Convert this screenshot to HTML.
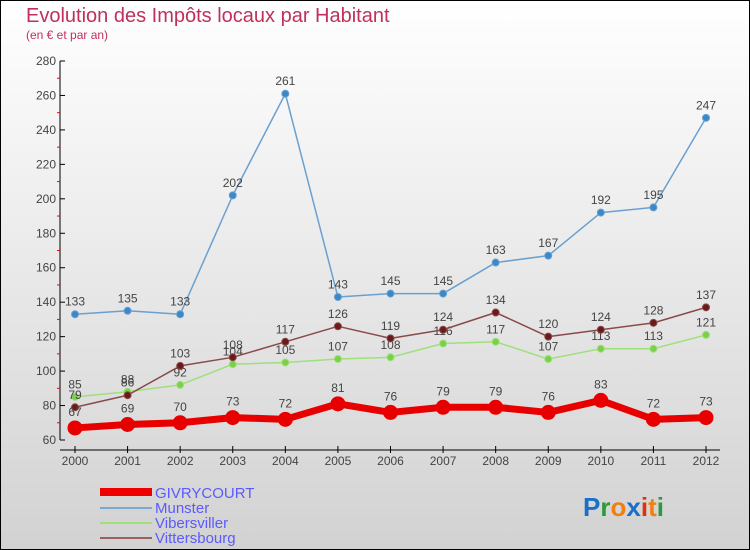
<!DOCTYPE html>
<html><head><meta charset="utf-8"><style>
body{margin:0;width:750px;height:550px;overflow:hidden;font-family:"Liberation Sans",sans-serif}
svg{display:block}
</style></head><body>
<svg id="c" width="750" height="550" xmlns="http://www.w3.org/2000/svg">
<defs><linearGradient id="bg" x1="0" y1="0" x2="0" y2="1"><stop offset="0" stop-color="#ffffff"/><stop offset="1" stop-color="#d2d2d2"/></linearGradient></defs>
<rect x="0.5" y="0.5" width="749" height="549" fill="url(#bg)" stroke="#000"/>
<text x="26" y="22" font-size="20" fill="#c0305a">Evolution des Impôts locaux par Habitant</text>
<text x="26" y="39" font-size="12" fill="#c0305a">(en € et par an)</text>
<g id="axes"></g><g id="series"></g>
<g>
<rect x="100" y="488" width="52" height="8" fill="#e00"/>
<text x="155" y="498" font-size="15" fill="#5a5aff">GIVRYCOURT</text>
<rect x="100" y="507" width="52" height="2" fill="#7aaad0"/>
<text x="155" y="513" font-size="15" fill="#5a5aff">Munster</text>
<rect x="100" y="522" width="52" height="2" fill="#9ee07a"/>
<text x="155" y="528" font-size="15" fill="#5a5aff">Vibersviller</text>
<rect x="100" y="537" width="52" height="2" fill="#9a6060"/>
<text x="155" y="543" font-size="15" fill="#5a5aff">Vittersbourg</text>
</g>
<text x="583" y="516" font-size="26" font-weight="bold"><tspan fill="#1a70c8">P</tspan><tspan fill="#2a9a3a">r</tspan><tspan fill="#f08010">o</tspan><tspan fill="#1a70c8">x</tspan><tspan fill="#e03010">i</tspan><tspan fill="#f08010">t</tspan><tspan fill="#2a9a3a">i</tspan></text>
</svg>
<script>
const years=[2000,2001,2002,2003,2004,2005,2006,2007,2008,2009,2010,2011,2012];
const givrycourt=[67,69,70,73,72,81,76,79,79,76,83,72,73];
const munster=[133,135,133,202,261,143,145,145,163,167,192,195,247];
const vibersviller=[85,88,92,104,105,107,108,116,117,107,113,113,121];
const vittersbourg=[79,86,103,108,117,126,119,124,134,120,124,128,137];
const yTicks=[60,80,100,120,140,160,180,200,220,240,260,280];
const NS='http://www.w3.org/2000/svg';
const X=i=>75+i*(706-75)/(years.length-1);
const Y=v=>440-(v-60)*(440-61)/220;
function mk(t,a,p){const e=document.createElementNS(NS,t);for(const k in a)e.setAttribute(k,a[k]);p.appendChild(e);return e;}
const ax=document.getElementById('axes');
const yl=mk('line',{x1:60,y1:61,x2:60,y2:440,stroke:'#000'},ax);


yTicks.forEach(v=>{
 mk('line',{x1:60,y1:Y(v),x2:65,y2:Y(v),stroke:'#000'},ax);
 if(v<280) mk('line',{x1:57,y1:Y(v+10),x2:60,y2:Y(v+10),stroke:'#f00'},ax);
 const t=mk('text',{x:56,y:Y(v)+4,'font-size':12,'text-anchor':'end',fill:'#444'},ax);t.textContent=v;
 
 
});
const xl=mk('line',{x1:60,y1:450,x2:720,y2:450,stroke:'#000'},ax);


years.forEach((y,i)=>{
 mk('line',{x1:X(i),y1:446,x2:X(i),y2:453,stroke:'#000'},ax);
 const t=mk('text',{x:X(i),y:465,'font-size':12,'text-anchor':'middle',fill:'#444'},ax);t.textContent=y;
 
 
});
const sg=document.getElementById('series');
function series(name,data,color,w,r,dot){
 const g=mk('g',{},sg);
 
 
 const pl=mk('polyline',{points:data.map((v,i)=>X(i)+','+Y(v)).join(' '),fill:'none',stroke:color,'stroke-width':w,'stroke-linejoin':'round'},g);
 
 
 data.forEach((v,i)=>{
  const c=mk('circle',{cx:X(i),cy:Y(v),r:r,fill:dot,stroke:color,'stroke-width':1},g);
  
  
  const t=mk('text',{x:X(i),y:Y(v)-(r+5),'font-size':12,'text-anchor':'middle',fill:'#444'},g);t.textContent=v;
  
  
 });
}
series('munster',munster,'#6aa0d0',1.5,3.5,'#3a88c8');
series('vibersviller',vibersviller,'#9ee07a',1.5,3.5,'#7ad048');
series('vittersbourg',vittersbourg,'#8a4a4a',1.5,3.5,'#6a1a1a');
series('givrycourt',givrycourt,'#e80000',7,7,'#e80000');
</script>
</body></html>
